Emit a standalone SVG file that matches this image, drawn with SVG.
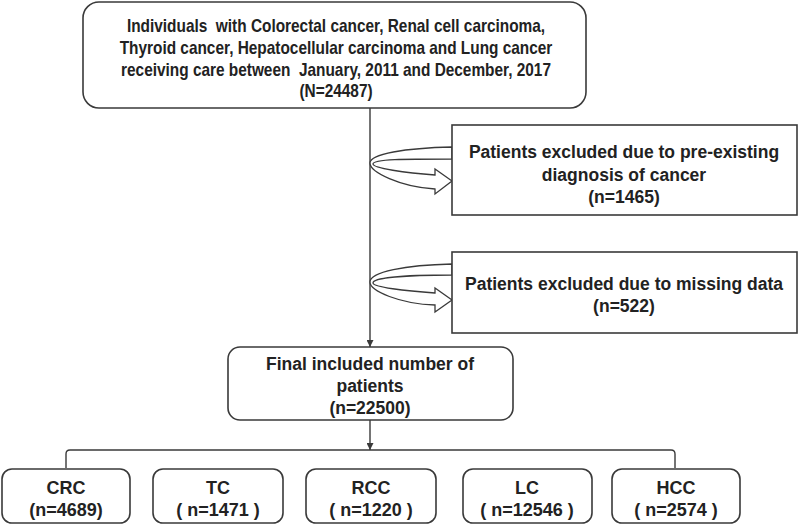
<svg xmlns="http://www.w3.org/2000/svg" width="800" height="525" viewBox="0 0 800 525">
<defs>
<style>
.box{fill:#fff;stroke:#3a3a3a;stroke-width:1.6}
.t{font-family:"Liberation Sans",Arial,sans-serif;font-weight:bold;font-size:17.5px;fill:#222;text-anchor:middle}
.b{font-size:18px}
.ln{fill:none;stroke:#3a3a3a;stroke-width:1.4}
.rib{fill:#fff;stroke:#3a3a3a;stroke-width:1.3;stroke-linejoin:miter}
</style>
<marker id="ah" viewBox="0 0 10 10" refX="10" refY="5" markerWidth="7" markerHeight="7" orient="auto" markerUnits="userSpaceOnUse">
<path d="M0,0 L10,5 L0,10 Z" fill="#3a3a3a"/>
</marker>
</defs>
<rect width="800" height="525" fill="#fff"/>
<g id="connectors">
<line class="ln" x1="370" y1="108" x2="370" y2="347" marker-end="url(#ah)"/>
<line class="ln" x1="370" y1="420" x2="370" y2="450" marker-end="url(#ah)"/>
<path class="ln" d="M66,468 L66,454 Q66,450 70,450 L671,450 Q675,450 675,454 L675,468"/>
<path class="rib" d="M452,147 C405,148 370,154 370,163 C370,172 400,187 435,189 L435,194 L452,181 L435,169 L435,175 C405,173 373,168 373,164 C373,159 405,159 452,159 Z"/>
<path class="rib" d="M452,264 C405,265 370,272 370,282 C370,291 400,304 435,305 L435,312 L452,300 L435,288 L435,293 C405,291 373,287 373,283 C373,278 405,275 452,275 Z"/>
</g>
<g id="n0">
<rect class="box" x="83" y="2" width="503" height="106" rx="16"/>
<g transform="translate(336,0) scale(0.88,1)">
<text class="t" x="0" y="32" xml:space="preserve">Individuals  with Colorectal cancer, Renal cell carcinoma,</text>
<text class="t" x="0" y="54">Thyroid cancer, Hepatocellular carcinoma and Lung cancer</text>
<text class="t" x="0" y="76" xml:space="preserve">receiving care between  January, 2011 and December, 2017</text>
<text class="t" x="0" y="97">(N=24487)</text>
</g>
</g>
<g id="n1">
<rect class="box" x="452" y="125" width="345" height="90"/>
<text class="t" x="624" y="158">Patients excluded due to pre-existing</text>
<text class="t" x="624" y="181">diagnosis of cancer</text>
<text class="t" x="624" y="203">(n=1465)</text>
</g>
<g id="n2">
<rect class="box" x="452" y="252" width="345" height="81"/>
<text class="t" x="624" y="290">Patients excluded due to missing data</text>
<text class="t" x="624" y="312">(n=522)</text>
</g>
<g id="n3">
<rect class="box" x="228" y="347" width="285" height="73" rx="12"/>
<text class="t" x="370" y="370">Final included number of</text>
<text class="t" x="370" y="392">patients</text>
<text class="t" x="370" y="414">(n=22500)</text>
</g>
<g id="n4">
<rect class="box" x="2" y="469" width="128" height="54" rx="10"/>
<text class="t b" x="66" y="494">CRC</text>
<text class="t b" x="66" y="516">(n=4689)</text>
</g>
<g id="n5">
<rect class="box" x="153" y="469" width="130" height="54" rx="10"/>
<text class="t b" x="218" y="494">TC</text>
<text class="t b" x="218" y="516">( n=1471 )</text>
</g>
<g id="n6">
<rect class="box" x="306" y="469" width="130" height="54" rx="10"/>
<text class="t b" x="371" y="494">RCC</text>
<text class="t b" x="371" y="516">( n=1220 )</text>
</g>
<g id="n7">
<rect class="box" x="463" y="469" width="129" height="54" rx="10"/>
<text class="t b" x="527" y="494">LC</text>
<text class="t b" x="527" y="516">( n=12546 )</text>
</g>
<g id="n8">
<rect class="box" x="612" y="469" width="128" height="54" rx="10"/>
<text class="t b" x="676" y="494">HCC</text>
<text class="t b" x="676" y="516">( n=2574 )</text>
</g>
</svg>
